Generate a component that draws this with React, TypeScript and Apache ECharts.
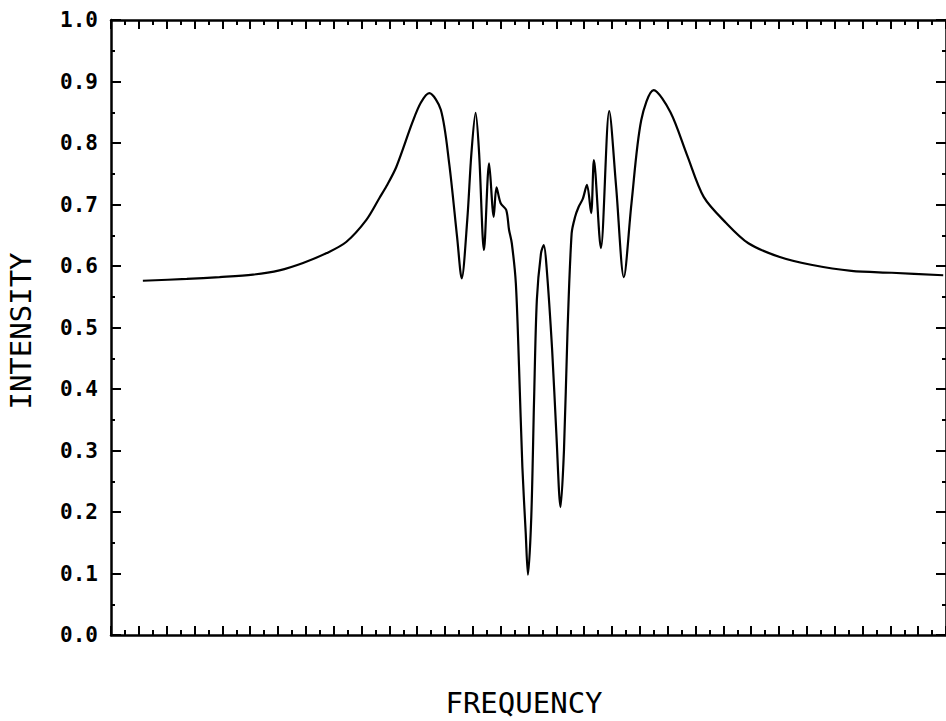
import React, { useEffect, useRef } from "react";
import * as echarts from "echarts";

// Frequency positions (arbitrary units, 0..60 across the frame) and intensity readings
const freq = [
  2.29, 5.45, 7.8, 10.2, 12.1, 13.8, 15.5, 16.9, 18.35, 19.3, 19.8, 20.5, 21.65, 22.25, 22.87,
  23.7, 24.3, 24.87, 25.2, 25.6, 25.9, 26.2, 26.45, 26.8, 27.17, 27.5, 27.7, 28.0, 28.4, 28.6,
  28.8, 29.09, 29.32, 29.56, 29.8, 29.96, 30.2, 30.4, 30.6, 30.9, 31.1, 31.3, 31.7, 32.0, 32.3,
  32.55, 32.8, 33.1, 33.35, 33.6, 33.9, 34.2, 34.5, 34.7, 35.2, 35.8, 36.3, 36.85, 37.4, 38.1,
  39.0, 40.2, 41.4, 42.6, 44.2, 45.8, 48.0, 50.3, 53.2, 56.1, 59.8,
];
const intensity = [
  0.576, 0.579, 0.582, 0.586, 0.593, 0.605, 0.621, 0.639, 0.675, 0.711, 0.73, 0.761, 0.833, 0.865, 0.881,
  0.854, 0.767, 0.647, 0.58, 0.675, 0.784, 0.849, 0.784, 0.626, 0.767, 0.68, 0.728, 0.702, 0.691, 0.659,
  0.637, 0.572, 0.436, 0.273, 0.166, 0.098, 0.192, 0.382, 0.545, 0.621, 0.634, 0.598, 0.463, 0.328, 0.208,
  0.301, 0.491, 0.653, 0.68, 0.696, 0.709, 0.732, 0.686, 0.772, 0.629, 0.852, 0.728, 0.582, 0.702, 0.837,
  0.886, 0.85, 0.78, 0.712, 0.67, 0.637, 0.615, 0.602, 0.592, 0.589, 0.585,
];
const yTickLabels = ["0.0", "0.1", "0.2", "0.3", "0.4", "0.5", "0.6", "0.7", "0.8", "0.9", "1.0"];
const xTitle = "FREQUENCY";
const yTitle = "INTENSITY";

const FONT = "'DejaVu Sans Mono', 'Liberation Mono', monospace";

export default function App() {
  const ref = useRef<HTMLDivElement>(null);
  useEffect(() => {
    if (!ref.current) return;
    const chart = echarts.init(ref.current, null, { renderer: "svg" });
    const axisLine = { show: true, onZero: false, lineStyle: { color: "#000", width: 2.5 } };
    const xCommon = {
      type: "value" as const,
      min: 0,
      max: 60,
      interval: 2,
      axisLine,
      axisLabel: { show: false },
      axisTick: { show: true, inside: true, length: 9, lineStyle: { color: "#000", width: 2 } },
      minorTick: { show: true, splitNumber: 2, length: 5, lineStyle: { color: "#000", width: 2 } },
      splitLine: { show: false },
      minorSplitLine: { show: false },
    };
    const yCommon = {
      type: "value" as const,
      min: 0,
      max: 1,
      interval: 0.1,
      axisLine,
      axisTick: { show: true, inside: true, length: 10, lineStyle: { color: "#000", width: 2 } },
      minorTick: { show: true, splitNumber: 2, length: 4, lineStyle: { color: "#000", width: 2 } },
      splitLine: { show: false },
      minorSplitLine: { show: false },
    };
    chart.setOption({
      animation: false,
      backgroundColor: "#fff",
      grid: { left: 111, top: 20, width: 838, height: 615 },
      xAxis: [
        { ...xCommon, position: "bottom" },
        { ...xCommon, position: "top" },
      ],
      yAxis: [
        {
          ...yCommon,
          position: "left",
          axisLabel: {
            show: true,
            margin: 13,
            color: "#000",
            fontFamily: FONT,
            fontSize: 21,
            fontWeight: "bold",
            formatter: (v: number) => yTickLabels[Math.round(v * 10)] ?? "",
          },
        },
        { ...yCommon, position: "right", axisLabel: { show: false } },
      ],
      graphic: [
        {
          type: "text",
          x: 524,
          y: 703,
          style: {
            text: xTitle,
            fontFamily: FONT,
            fontSize: 29,
            fill: "#000",
            textAlign: "center",
            textVerticalAlign: "middle",
          },
        },
        {
          type: "text",
          x: 21,
          y: 331,
          rotation: Math.PI / 2,
          style: {
            text: yTitle,
            fontFamily: FONT,
            fontSize: 29,
            fill: "#000",
            textAlign: "center",
            textVerticalAlign: "middle",
          },
        },
      ],
      series: [
        {
          type: "line",
          xAxisIndex: 0,
          yAxisIndex: 0,
          data: freq.map((x, i) => [x, intensity[i]]),
          showSymbol: false,
          smooth: 0.3,
          lineStyle: { color: "#000", width: 2.2 },
        },
      ],
    });
    return () => chart.dispose();
  }, []);
  return (
    <div
      ref={ref}
      style={{ position: "fixed", left: 0, top: 0, width: 946, height: 721, background: "#fff" }}
    />
  );
}
